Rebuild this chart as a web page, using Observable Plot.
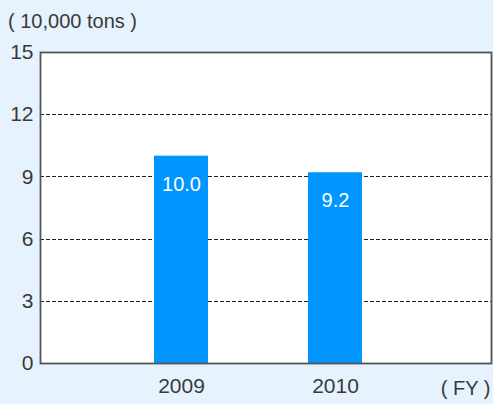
<!DOCTYPE html>
<html>
<head>
<meta charset="utf-8">
<script src="https://cdn.jsdelivr.net/npm/d3@7"></script>
<script src="https://cdn.jsdelivr.net/npm/@observablehq/plot@0.6"></script>
<style>
  html, body { margin: 0; padding: 0; background: #e6f2fd; }
  body { width: 493px; height: 404px; overflow: hidden; font-family: "Liberation Sans", Arial, Helvetica, sans-serif; }
  #title { height: 30px; line-height: 42px; padding-left: 8px; font-size: 20px; color: #3a3a3a; white-space: pre; }
  #chart svg { display: block; overflow: visible; }
</style>
</head>
<body>
<div id="title"></div>
<div id="chart"></div>
<script>
const years = ["2009", "2010"];
const values = [10.0, 9.2];
const yTicks = [0, 3, 6, 9, 12, 15];
const gridValues = [3, 6, 9, 12];
const unitLabel = "( 10,000 tons )";
const xUnitLabel = "( FY )";

const data = years.map((year, i) => ({year, value: values[i]}));

document.getElementById("title").textContent = unitLabel;

const chart = Plot.plot({
  width: 493,
  height: 374,
  marginTop: 22,
  marginLeft: 40,
  marginRight: 2,
  marginBottom: 41,
  style: {background: "transparent", fontFamily: "Liberation Sans, Arial, Helvetica, sans-serif", fontSize: "21px", color: "#3a3a3a", overflow: "visible"},
  x: {type: "band", domain: years, paddingInner: 0.65, paddingOuter: 0.785, align: 0.47, label: null},
  y: {domain: [0, 15], ticks: yTicks, label: null},
  marks: [
    Plot.frame({fill: "white", stroke: null}),
    Plot.ruleY(gridValues, {stroke: "#222", strokeWidth: 1, strokeDasharray: "4,2", shapeRendering: "crispEdges"}),
    Plot.barY(data, {x: "year", y: "value", fill: "#0096ff"}),
    Plot.text(data, {x: "year", y: "value", text: d => d.value.toFixed(1), fill: "white", dy: 28, fontSize: 20, lineAnchor: "middle"}),
    Plot.frame({stroke: "#555", strokeWidth: 1.8}),
    Plot.axisX({tickSize: 0, tickPadding: 15, fontSize: 21}),
    Plot.axisY({ticks: yTicks, tickSize: 0, tickPadding: 7, fontSize: 21}),
    Plot.text([xUnitLabel], {frameAnchor: "bottom-right", dy: 25, dx: -1, textAnchor: "end", lineAnchor: "middle", fontSize: 20, fill: "#3a3a3a"})
  ]
});
document.getElementById("chart").appendChild(chart);
</script>
</body>
</html>
